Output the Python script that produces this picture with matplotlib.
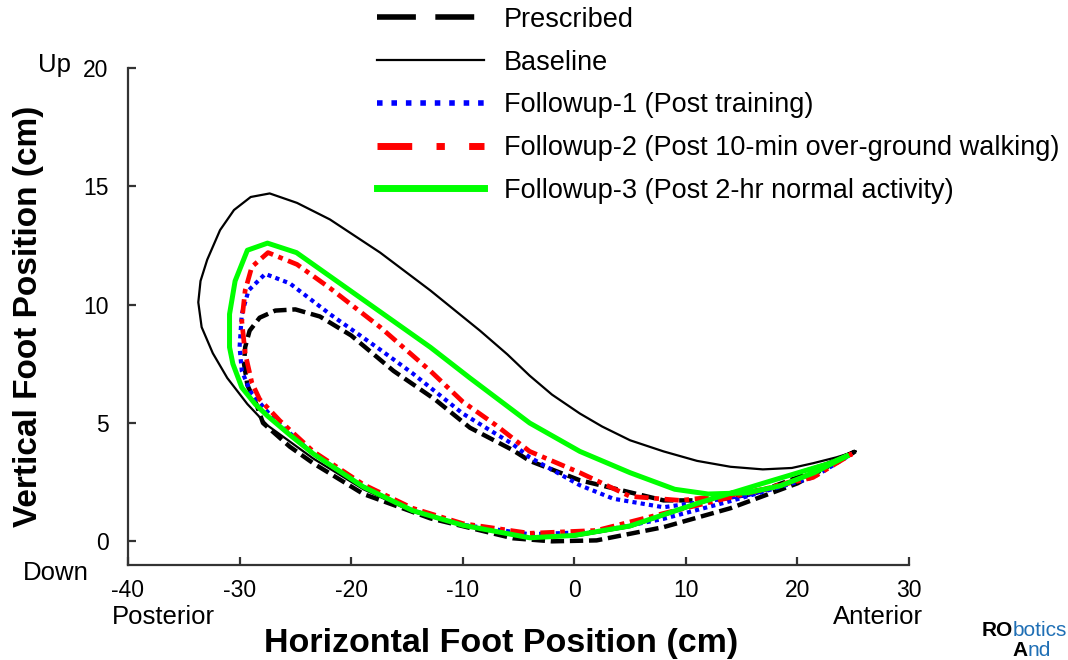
import matplotlib
matplotlib.use('Agg')
import matplotlib.pyplot as plt
from matplotlib.lines import Line2D

plt.rcParams['font.family'] = ['Liberation Sans', 'DejaVu Sans']
plt.rcParams['axes.unicode_minus'] = False

# foot trajectories (cm), each a closed loop: tip -> upper return -> left -> lower -> tip
prescribed_x = [25.2, 20.0, 16.0, 12.4, 8.0, 5.0, 0.5, -4.0, -5.5, -9.35, -12.5, -16.2,
                -20.0, -22.8, -25.0, -26.8, -28.2, -29.1, -29.5, -29.6, -29.3, -28.5,
                -27.9, -25.5, -23.4, -18.9, -12.9, -5.5, -2.0, 2.0, 8.0, 14.0, 20.0, 25.2]
prescribed_y = [3.8, 2.7, 2.0, 1.73, 1.73, 2.07, 2.58, 3.4, 3.85, 4.8, 6.0, 7.2,
                8.7, 9.5, 9.8, 9.75, 9.45, 8.9, 8.2, 7.5, 6.6, 5.8,
                5.0, 4.0, 3.3, 2.0, 0.97, 0.13, 0.0, 0.04, 0.6, 1.4, 2.45, 3.8]

baseline_x = [25.2, 23.5, 21.4, 19.5, 16.9, 14.0, 11.0, 8.0, 5.0, 2.5, 0.5, -2.0, -4.0,
              -6.0, -8.45, -12.9, -17.4, -21.9, -24.85, -27.3, -29.0, -30.5, -31.75,
              -32.9, -33.5, -33.7, -33.4, -32.4, -31.1, -29.3, -27.5, -23.4, -18.9,
              -14.5, -10.0, -4.0, 0.0, 5.0, 11.0, 16.9, 22.9, 25.2]
baseline_y = [3.8, 3.55, 3.3, 3.1, 3.04, 3.15, 3.4, 3.8, 4.27, 4.85, 5.4, 6.2, 7.0,
              7.9, 8.9, 10.6, 12.2, 13.6, 14.3, 14.7, 14.55, 14.0, 13.15,
              11.9, 11.0, 10.1, 9.05, 7.95, 6.9, 5.8, 4.9, 3.5, 2.2,
              1.25, 0.65, 0.15, 0.2, 0.6, 1.55, 2.45, 3.35, 3.8]

follow1_x = [24.9, 20.0, 16.0, 12.4, 8.0, 3.5, 0.5, -4.0, -5.5, -10.0, -14.5, -17.4,
             -21.9, -25.5, -27.7, -29.2, -29.8, -30.0, -29.8, -29.0, -27.0, -23.4,
             -18.9, -14.5, -10.0, -4.0, 2.0, 8.0, 14.0, 21.4, 24.9]
follow1_y = [3.7, 2.6, 2.0, 1.73, 1.44, 1.8, 2.37, 3.55, 4.1, 5.4, 7.1, 8.1,
             9.6, 10.9, 11.3, 10.6, 9.6, 8.2, 7.2, 6.3, 5.2, 3.7,
             2.3, 1.3, 0.7, 0.3, 0.4, 0.95, 1.7, 2.7, 3.7]

follow2_x = [24.9, 20.0, 17.0, 14.0, 9.5, 5.0, 0.5, -4.0, -7.0, -10.0, -12.9, -17.4,
             -21.9, -24.85, -27.45, -28.9, -29.5, -29.8, -29.5, -28.9, -28.2, -26.4,
             -23.4, -18.9, -14.5, -10.0, -4.0, 2.0, 8.0, 14.0, 21.4, 24.9]
follow2_y = [3.7, 2.6, 2.2, 1.95, 1.73, 1.9, 2.9, 3.8, 4.9, 5.9, 7.2, 9.05,
             10.7, 11.7, 12.2, 11.6, 10.6, 9.3, 7.95, 6.7, 6.0, 5.1,
             3.8, 2.4, 1.4, 0.75, 0.34, 0.46, 1.18, 1.86, 2.7, 3.7]

follow3_x = [24.4, 21.5, 18.5, 15.5, 12.0, 9.0, 5.0, 0.5, -4.0, -9.35, -12.9, -17.4,
             -21.9, -24.9, -27.5, -29.3, -30.4, -30.9, -30.9, -30.6, -29.8, -28.6,
             -27.5, -25.5, -23.4, -18.9, -14.5, -10.0, -4.0, 0.0, 5.0, 11.0, 16.9,
             22.9, 24.4]
follow3_y = [3.6, 2.9, 2.35, 2.05, 2.0, 2.2, 2.9, 3.8, 5.0, 6.9, 8.2, 9.7,
             11.2, 12.2, 12.6, 12.3, 11.0, 9.6, 8.2, 7.5, 6.5, 5.8,
             5.3, 4.5, 3.7, 2.3, 1.3, 0.68, 0.15, 0.25, 0.65, 1.6, 2.45,
             3.3, 3.6]

labels = ['Prescribed', 'Baseline', 'Followup-1 (Post training)',
          'Followup-2 (Post 10-min over-ground walking)',
          'Followup-3 (Post 2-hr normal activity)']

fig = plt.figure(figsize=(10.68, 6.6), dpi=100)
ax = fig.add_axes([128/1068, 95/660, 781/1068, 497/660])

ax.plot(baseline_x, baseline_y, color='black', lw=1.6)
ax.plot(prescribed_x, prescribed_y, color='black', lw=3.2, dashes=(3.0, 1.3))
ax.plot(follow1_x, follow1_y, color='#0000ff', lw=3.0, dashes=(1.0, 1.0))
ax.plot(follow2_x, follow2_y, color='#ff0000', lw=3.4, dashes=(3.0, 1.2, 1.0, 1.2))
ax.plot(follow3_x, follow3_y, color='#00ff00', lw=3.6)

ax.set_xlim(-40, 30)
ax.set_ylim(-1, 20)
ax.set_xticks([-40, -30, -20, -10, 0, 10, 20, 30])
ax.set_yticks([0, 5, 10, 15, 20])
for s in ['top', 'right']:
    ax.spines[s].set_visible(False)
for s in ['left', 'bottom']:
    ax.spines[s].set_linewidth(1.6)
    ax.spines[s].set_color('#333333')
ax.tick_params(direction='in', length=6, width=1.6, color='#333333', labelsize=16.5)
ax.tick_params(axis='y', pad=14)
ax.tick_params(axis='x', pad=10)

ax.set_xlabel('Horizontal Foot Position (cm)', fontsize=24.5, fontweight='bold')
ax.set_ylabel('Vertical Foot Position (cm)', fontsize=24, fontweight='bold')
ax.xaxis.set_label_coords((501 - 128) / 781, -(628 - 565) / 497)
ax.yaxis.set_label_coords(-(128 - 44) / 781, 0.5)

fig.text(55/1068, 1 - 65/660, 'Up', fontsize=18.5, ha='center', va='center')
fig.text(56/1068, 1 - 573/660, 'Down', fontsize=18.5, ha='center', va='center')
fig.text(163/1068, 1 - 617/660, 'Posterior', fontsize=18.5, ha='center', va='center')
fig.text(878/1068, 1 - 617/660, 'Anterior', fontsize=18.5, ha='center', va='center')

handles = [
    Line2D([], [], color='black', lw=4, dashes=(7, 3.5)),
    Line2D([], [], color='black', lw=1.6),
    Line2D([], [], color='#0000ff', lw=4, dashes=(1.0, 1.6)),
    Line2D([], [], color='#ff0000', lw=5, dashes=(5, 3.5, 1.2, 3.5)),
    Line2D([], [], color='#00ff00', lw=5),
]
fig.legend(handles, labels, loc='upper left', bbox_to_anchor=(370/1068, 1.0),
           frameon=False, fontsize=19.5, handlelength=3.95, handletextpad=0.74,
           labelspacing=0.62, borderaxespad=0.05, borderpad=0.2)

fig.text(1013/1068, 1 - 630/660, 'RO', fontsize=15, fontweight='bold', ha='right', va='center')
fig.text(1013/1068, 1 - 630/660, 'botics', fontsize=15, color='#1f6fb5', ha='left', va='center',
         family=['Liberation Sans Narrow', 'Liberation Sans'])
fig.text(1028/1068, 1 - 651/660, 'A', fontsize=15, fontweight='bold', ha='right', va='center')
fig.text(1028/1068, 1 - 651/660, 'nd', fontsize=15, color='#1f6fb5', ha='left', va='center',
         family=['Liberation Sans Narrow', 'Liberation Sans'])

fig.savefig('out.png', dpi=100)
